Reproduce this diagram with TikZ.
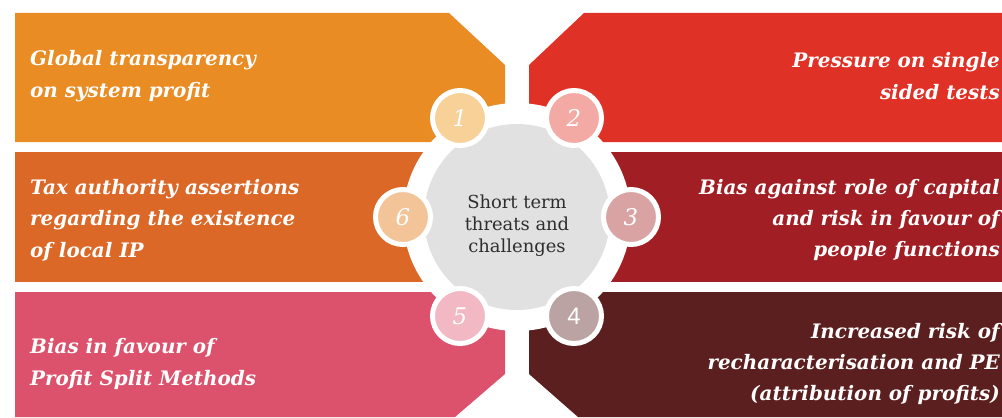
\documentclass[tikz,border=0pt]{standalone}
\usepackage{fontspec}
\setmainfont{DejaVu Serif}
\setsansfont{Liberation Sans}
\usetikzlibrary{positioning}
\definecolor{ink}      {HTML}{2E2E2E}
\definecolor{hubgray}  {HTML}{E1E1E1}
\definecolor{tileone}  {HTML}{E98C24}
\definecolor{tiletwo}  {HTML}{E03126}
\definecolor{tilethree}{HTML}{A11F24}
\definecolor{tilefour} {HTML}{5C1F1F}
\definecolor{tilefive} {HTML}{DC526C}
\definecolor{tilesix}  {HTML}{DC6828}
\definecolor{dotone}   {HTML}{F8D198}
\definecolor{dottwo}   {HTML}{F4AAA4}
\definecolor{dotthree} {HTML}{D9A3A4}
\definecolor{dotfour}  {HTML}{BCA3A3}
\definecolor{dotfive}  {HTML}{F2B9C4}
\definecolor{dotsix}   {HTML}{F3C498}
\tikzset{
  hub/.style      ={circle, fill=hubgray, minimum size=186bp, inner sep=0pt},
  hubtext/.style  ={align=center, text=ink, inner sep=0pt,
                    font=\fontsize{18}{22}\selectfont},
  numdisc/.style  ={circle, draw=white, line width=5bp, minimum size=55bp,
                    inner sep=0pt, text=white,
                    font=\fontsize{23}{23}\selectfont\itshape},
  itemtext/.style ={text=white, inner sep=0pt,
                    font=\fontsize{20}{31.5}\selectfont\bfseries\itshape},
  lefttext/.style ={itemtext, anchor=west, align=left},
  righttext/.style={itemtext, anchor=east, align=right},
}

\begin{document}
\begin{tikzpicture}[x=1bp,y=1bp]
  \useasboundingbox (0,0) rectangle (1002,417);
  \clip (0,0) rectangle (1002,417);

  % six tiles
  \fill[tileone]   (15,404) -- (449,404) -- (505,352) -- (505,275) -- (15,275) -- cycle;
  \fill[tiletwo]   (529,275) -- (529,352) -- (584,404) -- (1010,404) -- (1010,275) -- cycle;
  \fill[tilesix]   (15,265) rectangle (505,135);
  \fill[tilethree] (529,265) rectangle (1010,135);
  \fill[tilefive]  (15,125) -- (505,125) -- (505,43) -- (455,0) -- (15,0) -- cycle;
  \fill[tilefour]  (529,125) -- (1010,125) -- (1010,0) -- (578,0) -- (529,43) -- cycle;

  \node[lefttext]  (t1) at (30,341)  {Global transparency\\on system profit};
  \node[righttext] (t2) at (1000,341) {Pressure on single\\sided tests};
  \node[lefttext]  (t6) at (30,197)  {Tax authority assertions\\regarding the existence\\of local IP};
  \node[righttext] (t3) at (1000,197) {Bias against role of capital\\and risk in favour of\\people functions};
  \node[lefttext]  (t5) at (30,53)   {Bias in favour of\\Profit Split Methods};
  \node[righttext] (t4) at (1000,53)  {Increased risk of\\recharacterisation and PE\\(attribution of profits)};

  % hub
  \fill[white] (517,200) circle (114);
  \node[hub] (hub) at (517,200) {};
  \node[hubtext] (hublabel) at (517,191) {Short term\\threats and\\challenges};

  \node[numdisc, fill=dotone]   (d1) at (460,299) {1};
  \node[numdisc, fill=dottwo]   (d2) at (574,299) {2};
  \node[numdisc, fill=dotthree] (d3) at (631,200) {3};
  \node[numdisc, fill=dotfour, font=\fontsize{24}{24}\selectfont\sffamily]
                                (d4) at (574,101) {4};
  \node[numdisc, fill=dotfive]  (d5) at (460,101) {5};
  \node[numdisc, fill=dotsix]   (d6) at (403,200) {6};
\end{tikzpicture}
\end{document}
